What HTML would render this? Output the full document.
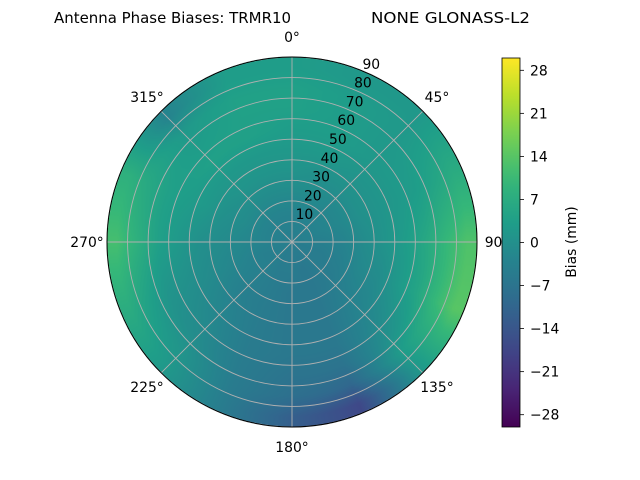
<!DOCTYPE html>
<html><head><meta charset="utf-8"><style>
body{margin:0;background:#fff;}
#wrap{position:relative;width:640px;height:480px;overflow:hidden;font-family:"DejaVu Sans","Liberation Sans",sans-serif;}
canvas,svg{position:absolute;left:0;top:0;}
</style></head><body>
<div id="wrap">
<canvas id="heat" width="640" height="480"></canvas>
<svg id="ov" width="640" height="480"></svg>
</div>
<script>
// azimuth bins (deg, clockwise from north), zenith ring centers (deg)
const azimuths=[0,22.5,45,67.5,90,112.5,135,157.5,180,202.5,225,247.5,270,292.5,315,337.5];
const zeniths=[5,15,25,35,45,55,65,75,85];
const ring0=[-4,-4,-4,-4,-4,-5,-5,-5,-5,-5,-4,-4,-4,-4,-4,-4];
const ring1=[-3,-3,-3,-3,-4,-5,-5,-6,-5,-5,-4,-4,-3,-3,-3,-3];
const ring2=[-1,-1,-2,-2,-3,-4,-5,-6,-6,-5,-4,-3,-2,-1,-1,-1];
const ring3=[1,0,0,0,-1,-2,-4,-6,-6,-5,-4,-2,-1,0,1,1];
const ring4=[2,2,1,1,1,-1,-3,-6,-6,-5,-3,-1,0,2,2,2];
const ring5=[3,3,2,2,3,2,-2,-6,-6,-5,-2,0,2,3,4,4];
const ring6=[4,3,2,3,6,5,0,-7,-7,-5,-1,1,4,4,3,4];
const ring7=[4,3,2,5,10,10,3,-10,-8,-5,1,4,8,6,2,4];
const ring8=[3,2,2,7,13,14,2,-17,-12,-5,2,7,12,8,-3,3];
const radialTicks=[10,20,30,40,50,60,70,80,90];
const angleTicks=[0,45,90,135,180,225,270,315];
const cbarTicks=[28,21,14,7,0,-7,-14,-21,-28];
const vmin=-30,vmax=30;

const grid=[ring0,ring1,ring2,ring3,ring4,ring5,ring6,ring7,ring8];
const CX=292,CY=242,R=185,ZMAX=90;
const rScale=z=>z/ZMAX*R;
const VIR=[[68,1,84],[72,40,120],[62,74,137],[49,104,142],[38,130,142],[31,158,137],[53,183,121],[110,206,88],[181,222,43],[253,231,37]];
function viridis(t){t=Math.max(0,Math.min(1,t));const f=t*(VIR.length-1),i=Math.min(VIR.length-2,Math.floor(f)),u=f-i;
return VIR[i].map((c,k)=>Math.round(c+(VIR[i+1][k]-c)*u));}
function sample(az,z){
  const n=azimuths.length,step=360/n;
  let a=((az%360)+360)%360/step; const i0=Math.floor(a)%n,i1=(i0+1)%n,ua=a-Math.floor(a);
  let zf=(z-zeniths[0])/(zeniths[1]-zeniths[0]); zf=Math.max(0,Math.min(zeniths.length-1,zf));
  const j0=Math.min(zeniths.length-2,Math.floor(zf)),uz=zf-j0;
  const v0=grid[j0][i0]*(1-ua)+grid[j0][i1]*ua, v1=grid[j0+1][i0]*(1-ua)+grid[j0+1][i1]*ua;
  return v0*(1-uz)+v1*uz;}
const cv=document.getElementById('heat'),ctx=cv.getContext('2d'),img=ctx.createImageData(640,480);
for(let y=CY-R-1;y<=CY+R+1;y++)for(let x=CX-R-1;x<=CX+R+1;x++){
  const dx=x+0.5-CX,dy=y+0.5-CY,r=Math.hypot(dx,dy); if(r>R)continue;
  const az=Math.atan2(dx,-dy)*180/Math.PI,z=r/R*ZMAX;
  const c=viridis((sample(az,z)-vmin)/(vmax-vmin)),p=(y*640+x)*4;
  img.data[p]=c[0];img.data[p+1]=c[1];img.data[p+2]=c[2];img.data[p+3]=255;}
ctx.putImageData(img,0,0);

const NS='http://www.w3.org/2000/svg',svg=document.getElementById('ov');
function mk(t,a,parent){const e=document.createElementNS(NS,t);for(const k in a)e.setAttribute(k,a[k]);(parent||svg).appendChild(e);return e;}
radialTicks.forEach(v=>{const c=mk('circle',{cx:CX,cy:CY,r:rScale(v),fill:'none',stroke:'#b0b0b0','stroke-width':0.9});

});
angleTicks.forEach(a=>{const t=a*Math.PI/180;const l=mk('line',{x1:CX,y1:CY,x2:CX+R*Math.sin(t),y2:CY-R*Math.cos(t),stroke:'#b0b0b0','stroke-width':0.9});

});
const bd=mk('circle',{cx:CX,cy:CY,r:R,fill:'none',stroke:'#000','stroke-width':1});


radialTicks.forEach(v=>{const rr=rScale(v)+10,t=24*Math.PI/180;
const e=mk('text',{x:CX+rr*Math.sin(t),y:CY-rr*Math.cos(t)+5,'text-anchor':'middle','font-size':13.9,fill:'#000'});e.textContent=v;

});
angleTicks.forEach(a=>{const t=a*Math.PI/180,rr=205;
const e=mk('text',{x:CX+rr*Math.sin(t),y:CY-rr*Math.cos(t)+5,'text-anchor':'middle','font-size':13.9,fill:'#000'});e.textContent=a+'°';

});
const t1=mk('text',{x:54,y:23,'font-size':15.5,fill:'#000',textLength:237,lengthAdjust:'spacingAndGlyphs'});t1.textContent='Antenna Phase Biases: TRMR10';


const t2=mk('text',{x:371,y:23,'font-size':15.5,fill:'#000',textLength:159,lengthAdjust:'spacingAndGlyphs'});t2.textContent='NONE GLONASS-L2';


const CBX=502,CBW=18,CBT=58,CBB=427;
const defs=mk('defs',{});const lg=mk('linearGradient',{id:'cg',x1:0,y1:1,x2:0,y2:0},defs);
for(let i=0;i<=20;i++){const c=viridis(i/20);mk('stop',{offset:i/20,'stop-color':`rgb(${c})`},lg);}
const cb=mk('rect',{x:CBX,y:CBT,width:CBW,height:CBB-CBT,fill:'url(#cg)',stroke:'#000','stroke-width':0.8});


const cy=v=>CBB-(v-vmin)/(vmax-vmin)*(CBB-CBT);
cbarTicks.forEach(v=>{mk('line',{x1:CBX+CBW,x2:CBX+CBW+4,y1:cy(v),y2:cy(v),stroke:'#000','stroke-width':0.8});
const e=mk('text',{x:CBX+CBW+10,y:cy(v)+5,'font-size':13.9,fill:'#000'});e.textContent=v<0?'\u2212'+(-v):v;

});
const cl=mk('text',{x:576,y:242,'font-size':13.9,'text-anchor':'middle',transform:'rotate(-90 576 242)',fill:'#000'});cl.textContent='Bias (mm)';


</script>
</body></html>
